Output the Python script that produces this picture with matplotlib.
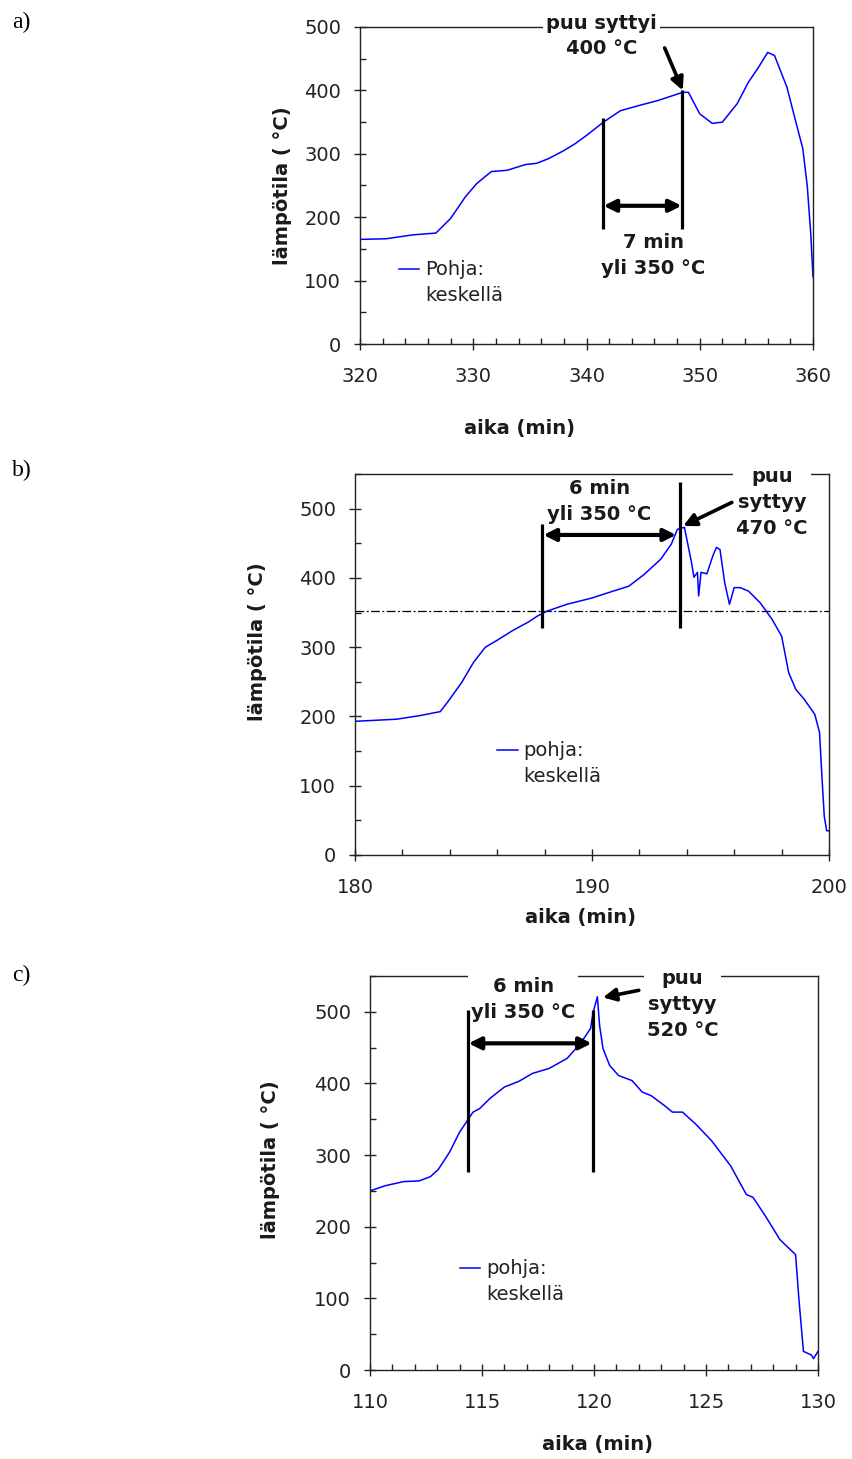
import matplotlib
matplotlib.use("Agg")
import numpy as np
import matplotlib.pyplot as plt
from matplotlib.ticker import MultipleLocator
from matplotlib.legend_handler import HandlerLine2D

plt.rcParams['font.family'] = ['DejaVu Sans']

# ---------------- data ----------------
# panel a
a_time = [320, 322.3, 324.6, 326.7, 328, 329.3, 330.3, 331.6, 333, 334.6, 335.6, 336.6,
          338, 339, 340, 341.5, 343, 344.6, 346.3, 348.5, 349, 350, 351.1, 352, 353.3,
          354.3, 355.1, 356, 356.6, 357.7, 358.3, 359.1, 359.5, 359.8, 360]
a_temp = [165, 166, 172, 175, 198, 232, 253, 272, 274, 283, 285, 292,
          305, 316, 329, 350, 368, 376, 384, 397, 397, 363, 348, 350, 379,
          413, 434, 460, 455, 405, 363, 308, 248, 174, 106]

# panel b
b_time = [180, 181.75, 182.7, 183.6, 184, 184.5, 185, 185.5, 186, 186.65, 187.3, 187.7,
          188.1, 188.95, 190, 190.9, 191.55, 192.2, 192.9, 193.35, 193.6, 193.9, 194.2,
          194.3, 194.45, 194.5, 194.6, 194.85, 195.1, 195.25, 195.4, 195.6, 195.8, 196,
          196.25, 196.6, 197.1, 197.6, 198, 198.3, 198.6, 198.95, 199.4, 199.6, 199.7,
          199.8, 199.9, 200]
b_temp = [193, 196, 201, 207, 225, 249, 278, 300, 310, 324, 336, 345,
          352, 362, 371, 381, 388, 405, 427, 449, 470, 473, 422,
          401, 408, 374, 408, 406, 432, 444, 441, 393, 362, 386,
          386, 381, 364, 340, 316, 263, 239, 225, 203, 177, 114,
          56, 35, 35]

# panel c
c_time = [110, 110.65, 111.5, 112.2, 112.7, 113.05, 113.55, 114, 114.3, 114.6, 114.9,
          115.35, 116, 116.65, 117.25, 118, 118.8, 119.4, 119.85, 119.95, 120.15, 120.25,
          120.4, 120.7, 121.1, 121.7, 122.15, 122.55, 123.15, 123.5, 123.95, 124.55,
          125.25, 126.1, 126.8, 127.1, 127.65, 128.3, 129, 129.15, 129.35, 129.7, 129.8, 130]
c_temp = [250, 257, 263, 264, 270, 280, 304, 332, 346, 360, 365,
          379, 395, 403, 414, 421, 435, 456, 477, 498, 521, 481,
          449, 425, 411, 404, 388, 383, 369, 360, 360, 343,
          320, 285, 245, 241, 215, 182, 161, 98, 26, 21, 16, 26]

legend_a = "Pohja:\nkeskellä"
legend_bc = "pohja:\nkeskellä"
threshold_b = 352

# ---------------- figure ----------------
W, H = 853, 1459
fig = plt.figure(figsize=(W / 100, H / 100), dpi=100)


def px_axes(left, right, top, bottom):
    return fig.add_axes([left / W, 1 - bottom / H, (right - left) / W, (bottom - top) / H])


TICK_FS = 14
BOLD_FS = 14
LEG_FS = 14
BLUE = '#0000ff'
TXT = '#1a1a1a'


class UpHandler(HandlerLine2D):
    def __init__(self, dy, **kw):
        super().__init__(**kw)
        self.dy = dy

    def create_artists(self, legend, orig_handle, xdescent, ydescent, width, height,
                       fontsize, trans):
        arts = super().create_artists(legend, orig_handle, xdescent, ydescent, width,
                                      height, fontsize, trans)
        for a in arts:
            a.set_ydata(np.asarray(a.get_ydata()) + self.dy)
        return arts


def style(ax, xlim, ylim, xmaj, xmin):
    ax.set_xlim(*xlim)
    ax.set_ylim(*ylim)
    ax.xaxis.set_major_locator(MultipleLocator(xmaj))
    ax.xaxis.set_minor_locator(MultipleLocator(xmin))
    ax.yaxis.set_major_locator(MultipleLocator(100))
    ax.yaxis.set_minor_locator(MultipleLocator(50))
    ax.tick_params(which='major', direction='inout', length=9, width=1.0,
                   labelsize=TICK_FS, colors='#222222')
    ax.tick_params(axis='x', which='major', pad=12)
    ax.tick_params(axis='y', which='major', pad=9)
    ax.tick_params(which='minor', direction='in', length=4.5, width=1.0, colors='#222222')
    for s in ax.spines.values():
        s.set_linewidth(1.0)
        s.set_color('#222222')
    ax.set_yticks([0, 100, 200, 300, 400, 500])


def vline(ax, x, y0, y1):
    ax.plot([x, x], [y0, y1], color='black', lw=2.3, zorder=5, solid_capstyle='butt')


def darrow(ax, x0, x1, y):
    ax.annotate('', xy=(x1, y), xytext=(x0, y),
                arrowprops=dict(arrowstyle='<|-|>', lw=3, color='black',
                                mutation_scale=18, shrinkA=0, shrinkB=0), zorder=6)


def parrow(ax, start, tip):
    ax.annotate('', xy=tip, xytext=start,
                arrowprops=dict(arrowstyle='-|>', lw=2.6, color='black',
                                mutation_scale=19, shrinkA=0, shrinkB=0), zorder=6)


def btext(ax, x, y, s, va='center'):
    ax.text(x, y, s, ha='center', va=va, fontsize=BOLD_FS, fontweight='bold',
            linespacing=1.45, zorder=4, color=TXT,
            bbox=dict(boxstyle='square,pad=0.15', fc='white', ec='none'))


def legend(ax, label, x, y):
    leg = ax.legend([ax.lines[0]], [label], loc='upper left', bbox_to_anchor=(x, y),
                    frameon=False, fontsize=LEG_FS, handlelength=1.05, handletextpad=0.3,
                    borderpad=0, borderaxespad=0,
                    handler_map={ax.lines[0]: UpHandler(10.0)})
    for t in leg.get_texts():
        t.set_linespacing(1.45)
        t.set_color('#222222')


def labels(ax, ypos, xpos):
    ax.text(ypos[0], ypos[1], "lämpötila ( °C)", transform=ax.transAxes, rotation=90,
            ha='center', va='center', fontsize=BOLD_FS, fontweight='bold', color=TXT)
    ax.text(xpos[0], xpos[1], "aika (min)", transform=ax.transAxes, ha='center',
            va='center', fontsize=BOLD_FS, fontweight='bold', color=TXT)


# ---------------- panel a ----------------
axa = px_axes(360, 813, 27, 344)
axa.plot(a_time, a_temp, color=BLUE, lw=1.1)
style(axa, (320, 360), (0, 500), 10, 2)
vline(axa, 341.45, 182, 356)
vline(axa, 348.45, 182, 400)
darrow(axa, 341.5, 348.4, 218)
parrow(axa, (346.9, 467), (348.5, 400))
btext(axa, 341.3, 521, "puu syttyi\n400 °C", va='top')
axa.text(345.9, 140, "7 min\nyli 350 °C", ha='center', va='center', fontsize=BOLD_FS,
         fontweight='bold', linespacing=1.45, color=TXT)
legend(axa, legend_a, 0.085, 0.265)
labels(axa, (-0.170, 0.5), (0.353, -0.265))
fig.text(12 / W, 1 - 22 / H, "a)", family='Liberation Serif', fontsize=17, va='center')

# ---------------- panel b ----------------
axb = px_axes(355, 829, 474, 855)
axb.plot(b_time, b_temp, color=BLUE, lw=1.1)
style(axb, (180, 200), (0, 550), 10, 2)
axb.axhline(threshold_b, color='black', lw=0.9, ls=(0, (7, 2, 1.5, 2)), zorder=1.5)
vline(axb, 187.9, 328, 478)
vline(axb, 193.7, 328, 539)
darrow(axb, 187.95, 193.55, 462)
parrow(axb, (195.9, 509), (193.85, 475))
btext(axb, 190.3, 510, "6 min\nyli 350 °C")
btext(axb, 197.6, 509, "puu\nsyttyy\n470 °C")
legend(axb, legend_bc, 0.30, 0.299)
labels(axb, (-0.205, 0.56), (0.475, -0.165))
fig.text(12 / W, 1 - 470 / H, "b)", family='Liberation Serif', fontsize=17, va='center')

# ---------------- panel c ----------------
axc = px_axes(370, 818, 976, 1370)
axc.plot(c_time, c_temp, color=BLUE, lw=1.1)
style(axc, (110, 130), (0, 550), 5, 1)
vline(axc, 114.36, 276, 502)
vline(axc, 119.96, 276, 502)
darrow(axc, 114.4, 119.9, 456)
parrow(axc, (122.0, 530), (120.4, 520))
btext(axc, 116.85, 517, "6 min\nyli 350 °C")
btext(axc, 123.95, 510, "puu\nsyttyy\n520 °C")
legend(axc, legend_bc, 0.20, 0.282)
labels(axc, (-0.223, 0.533), (0.507, -0.19))
fig.text(12 / W, 1 - 975 / H, "c)", family='Liberation Serif', fontsize=17, va='center')

fig.savefig("out.png", dpi=100)
